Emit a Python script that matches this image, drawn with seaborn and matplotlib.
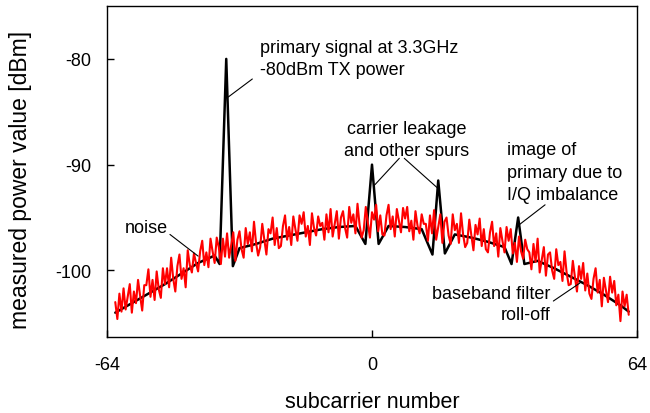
import numpy as np
import pandas as pd
import seaborn as sns
from matplotlib import pyplot as plt

# black trace: filter shape with the spurs on top of it
curve_x = [-62, -58, -54, -50, -46, -42, -38, -36.8, -35.2, -33.6, -32, -28, -24, -20,
           -16, -12, -8, -4, -1.6, 0, 1.6, 4, 8, 12, 14.6, 16, 17.6, 20, 24, 28, 32,
           33.7, 35.3, 36.8, 40, 44, 48, 52, 56, 60, 62]
curve_db = [-104.0, -103.1, -102.2, -101.3, -100.3, -99.3, -98.6, -99.4, -80.0, -99.6,
            -97.9, -97.5, -97.0, -96.7, -96.4, -96.1, -95.9, -95.8, -97.5, -90.0, -97.5,
            -95.8, -95.9, -96.1, -98.5, -91.5, -98.4, -96.6, -96.9, -97.3, -97.8,
            -99.4, -95.0, -99.4, -99.1, -99.8, -100.6, -101.4, -102.3, -103.3, -103.9]

noise_db = [
    -103.0, -104.6, -102.2, -103.9, -101.7, -103.7, -102.5, -101.3, -104.0, -102.0,
    -103.1, -100.9, -102.4, -103.8, -101.4, -101.4, -99.9, -102.5, -100.9, -102.8,
    -100.1, -101.8, -102.6, -99.8, -101.3, -99.8, -101.6, -98.8, -100.8, -102.0,
    -99.6, -98.5, -100.8, -99.8, -101.6, -98.1, -99.5, -100.2, -98.4, -99.3,
    -100.1, -98.2, -97.2, -99.5, -98.3, -99.7, -97.0, -98.2, -99.3, -96.9,
    -97.8, -99.4, -97.0, -98.7, -96.5, -98.8, -97.6, -96.4, -99.1, -97.1,
    -96.3, -98.0, -98.8, -96.0, -97.5, -96.4, -98.2, -95.4, -97.4, -98.6,
    -97.8, -95.6, -97.1, -98.5, -96.1, -96.5, -95.0, -97.6, -96.0, -97.9,
    -97.7, -95.8, -94.8, -97.1, -95.9, -97.6, -94.9, -96.1, -97.2, -94.8,
    -95.6, -94.5, -96.8, -95.8, -97.6, -94.6, -96.0, -96.7, -94.9, -95.8,
    -95.5, -97.1, -94.7, -96.4, -94.2, -96.8, -95.6, -94.4, -97.0, -95.0,
    -94.4, -96.0, -96.9, -94.0, -95.5, -94.7, -96.5, -93.7, -95.7, -96.9,
    -96.2, -94.0, -95.5, -96.9, -94.5, -95.2, -93.8, -96.3, -94.8, -96.6,
    -96.7, -94.8, -93.8, -96.1, -94.9, -96.8, -94.2, -95.3, -96.4, -94.1,
    -95.1, -94.0, -96.3, -95.3, -97.1, -94.4, -95.8, -96.5, -94.7, -95.6,
    -95.6, -97.2, -94.8, -96.5, -94.3, -97.1, -95.9, -94.7, -97.4, -95.4,
    -95.0, -96.7, -97.5, -94.7, -96.2, -95.6, -97.4, -94.6, -96.6, -97.8,
    -97.4, -95.2, -96.7, -98.1, -95.7, -96.6, -95.1, -97.7, -96.1, -98.0,
    -98.3, -96.4, -95.4, -97.7, -96.5, -98.7, -96.0, -97.2, -98.3, -95.9,
    -97.2, -96.1, -98.4, -97.4, -99.2, -96.8, -98.2, -98.9, -97.1, -98.0,
    -98.3, -99.9, -97.5, -99.2, -97.0, -100.2, -99.0, -97.8, -100.5, -98.5,
    -98.3, -100.0, -100.8, -98.0, -99.5, -99.2, -101.0, -98.2, -100.2, -101.4,
    -101.3, -99.1, -100.6, -102.0, -99.6, -100.8, -99.3, -101.9, -100.3, -102.2,
    -102.7, -100.8, -99.8, -102.1, -100.9, -103.4, -100.7, -101.9, -103.0, -100.6,
    -102.1, -101.0, -103.3, -102.3, -104.8, -102.0, -103.4, -102.3, -104.2,
]
noise_x = np.linspace(-62, 62, len(noise_db))

x_ticks = [-64, 0, 64]
y_ticks = [-80, -90, -100]


def main():
    sns.set_style("ticks")
    plt.rcParams['font.family'] = ['Liberation Sans', 'DejaVu Sans']
    plt.rcParams['text.color'] = 'black'
    plt.rcParams['axes.labelcolor'] = 'black'
    plt.rcParams['xtick.color'] = 'black'
    plt.rcParams['ytick.color'] = 'black'

    fig = plt.figure(figsize=(6.5, 4.14), dpi=100)
    ax = fig.add_axes([0.1646, 0.1836, 0.8154, 0.7994])

    df_curve = pd.DataFrame({"sc": curve_x, "db": curve_db})
    df_noise = pd.DataFrame({"sc": noise_x, "db": noise_db})

    sns.lineplot(data=df_curve, x="sc", y="db", ax=ax, color="black", lw=1.8,
                 estimator=None, sort=False)
    sns.lineplot(data=df_noise, x="sc", y="db", ax=ax, color="#ff0000", lw=1.5,
                 estimator=None, sort=False)

    ax.set_xlim(-64, 64)
    ax.set_ylim(-106.3, -75)
    ax.set_xticks(x_ticks)
    ax.set_xticklabels([str(t) for t in x_ticks])
    ax.set_yticks(y_ticks)
    ax.set_yticklabels([str(t) for t in y_ticks])
    ax.tick_params(axis="both", direction="in", length=5, width=1,
                   labelsize=13, color="black")
    ax.tick_params(axis="x", pad=14)
    ax.tick_params(axis="y", pad=11)
    for s in ax.spines.values():
        s.set_color("black")
        s.set_linewidth(1)

    ax.set_xlabel("subcarrier number", fontsize=15.5, va="center")
    ax.set_ylabel("measured power value [dBm]", fontsize=16.5, va="center")
    ax.xaxis.set_label_coords(0.5, -0.196)
    ax.yaxis.set_label_coords(-0.164, 0.477)

    fs = 13
    ls = 1.35
    ax.text(-27.0, -79.95, "primary signal at 3.3GHz\n-80dBm TX power",
            ha="left", va="center", fontsize=fs, linespacing=ls)
    ax.text(8.45, -87.6, "carrier leakage\nand other spurs",
            ha="center", va="center", multialignment="center", fontsize=fs,
            linespacing=ls)
    ax.text(32.6, -90.7, "image of\nprimary due to\nI/Q imbalance",
            ha="left", va="center", fontsize=fs, linespacing=1.42)
    ax.text(-59.65, -96.35, "noise", ha="left", va="baseline", fontsize=fs)
    ax.text(43.2, -103.2, "baseband filter\nroll-off",
            ha="right", va="center", multialignment="right", fontsize=fs,
            linespacing=ls)

    pointers = [((-28.9, -81.9), (-34.7, -83.6)),
                ((6.6, -89.4), (0.7, -91.9)),
                ((7.8, -89.4), (15.8, -92.2)),
                ((41.8, -93.8), (35.5, -95.7)),
                ((-48.8, -96.6), (-42.0, -98.65)),
                ((43.8, -102.9), (50.2, -101.2))]
    for start, end in pointers:
        ax.annotate("", xy=end, xytext=start,
                    arrowprops=dict(arrowstyle="-", lw=0.8, color="black",
                                    shrinkA=0, shrinkB=0))

    fig.savefig("out.png", dpi=100)


if __name__ == "__main__":
    main()
